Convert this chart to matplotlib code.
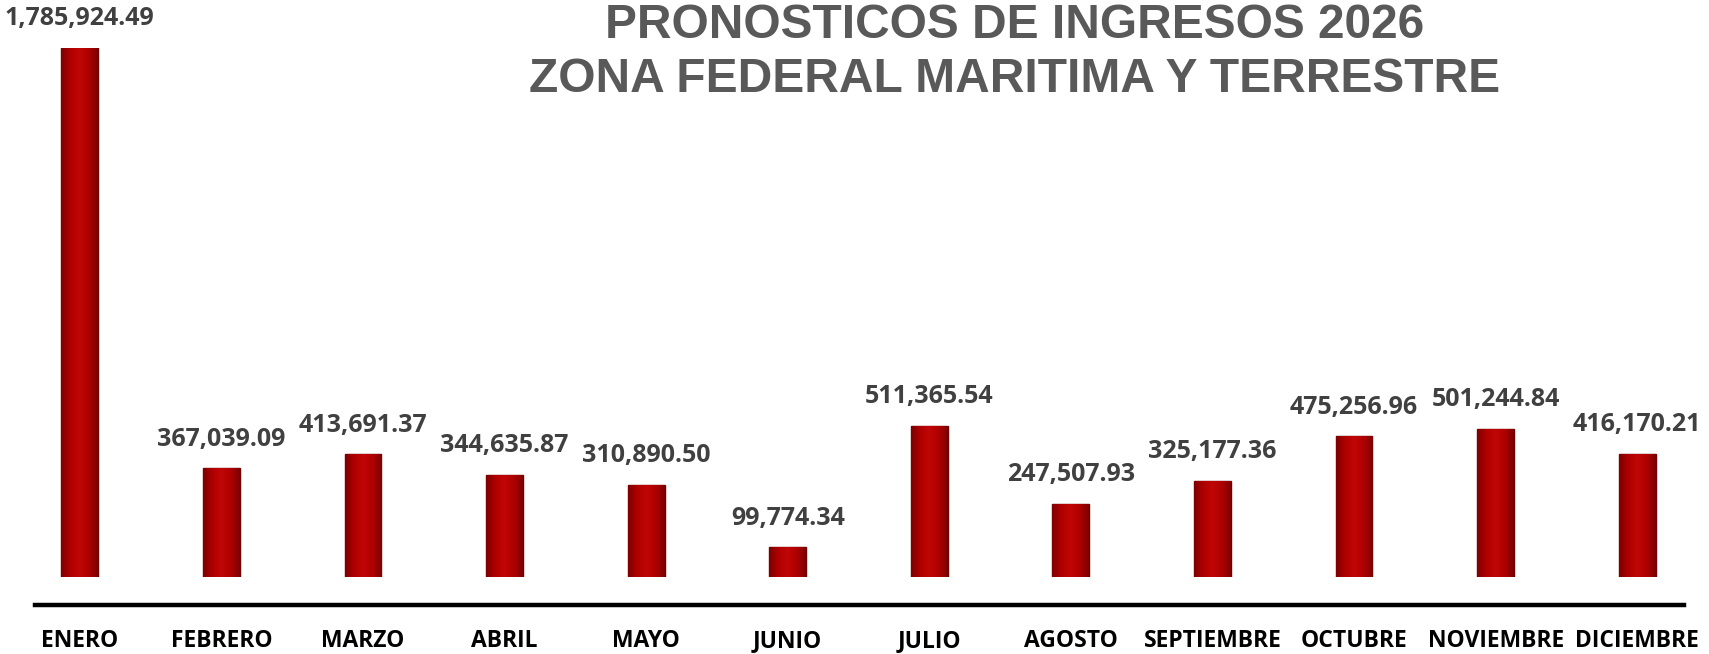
import matplotlib
matplotlib.use("Agg")
import matplotlib.pyplot as plt
import numpy as np
from matplotlib.transforms import blended_transform_factory
from matplotlib.colors import LinearSegmentedColormap
from matplotlib.lines import Line2D

months = ["ENERO", "FEBRERO", "MARZO", "ABRIL", "MAYO", "JUNIO", "JULIO",
          "AGOSTO", "SEPTIEMBRE", "OCTUBRE", "NOVIEMBRE", "DICIEMBRE"]
values = [1785924.49, 367039.09, 413691.37, 344635.87, 310890.50, 99774.34,
          511365.54, 247507.93, 325177.36, 475256.96, 501244.84, 416170.21]
title_lines = ["PRONOSTICOS DE INGRESOS 2026", "ZONA FEDERAL MARITIMA Y TERRESTRE"]

W, H = 1709, 654
fig = plt.figure(figsize=(W / 100, H / 100), dpi=100)
fig.patch.set_facecolor("white")

# axes: bars bottom at y=577 px (from top), tallest top at 48 px
ax = fig.add_axes([9 / W, (H - 577) / H, 1699 / W, (577 - 48) / H])
ax.axis("off")

x = np.arange(len(months))
bars = ax.bar(x, values, width=0.26, color="#A80000", edgecolor="#6E0000",
              linewidth=1.0, zorder=2)

# horizontal gradient for a cylinder-like look
cmap = LinearSegmentedColormap.from_list(
    "barshade", ["#7E0000", "#B00000", "#C00606", "#B00000", "#7E0000"])
grad = np.linspace(0, 1, 64).reshape(1, -1)
for b in bars:
    bx, by, bw, bh = b.get_x(), b.get_y(), b.get_width(), b.get_height()
    im = ax.imshow(grad, cmap=cmap, aspect="auto",
                   extent=(bx, bx + bw, by, by + bh), zorder=3,
                   interpolation="bicubic")
    im.set_clip_path(b)
ax.set_xlim(-0.5, len(months) - 0.5)
ax.set_ylim(0, max(values))

LABEL_FONT = "Open Sans"

# value labels
fig.canvas.draw()
renderer = fig.canvas.get_renderer()
for i, (b, v) in enumerate(zip(bars, values)):
    t = ax.annotate(f"{v:,.2f}", xy=(b.get_x() + b.get_width() / 2, b.get_height()),
                    xytext=(0, 21), textcoords="offset points",
                    ha="center", va="center", fontsize=18, fontweight="bold",
                    family=LABEL_FONT, color="#404040", annotation_clip=False, zorder=5)
    bb = t.get_window_extent(renderer)
    if bb.x1 > W - 8:
        t.set_position((-(bb.x1 - (W - 8)) * 72 / 100, 21))

# month labels
trans = blended_transform_factory(ax.transData, fig.transFigure)
for xi, m in zip(x, months):
    ax.text(xi, 1 / H, m, transform=trans, ha="center", va="bottom",
            fontsize=16.5, fontweight="bold", family=LABEL_FONT, color="black")

# black base line
fig.add_artist(Line2D([35 / W, 1684 / W], [(H - 605) / H] * 2,
                      transform=fig.transFigure, color="black", linewidth=3.2))

# title
fig.text(1015 / W, (H - 38) / H, title_lines[0], ha="center", va="baseline",
         fontsize=34.5, fontweight="bold", family="Liberation Sans", color="#595959")
fig.text(1015 / W, (H - 92) / H, title_lines[1], ha="center", va="baseline",
         fontsize=34.5, fontweight="bold", family="Liberation Sans", color="#595959")

fig.savefig("out.png", dpi=100, facecolor="white")
